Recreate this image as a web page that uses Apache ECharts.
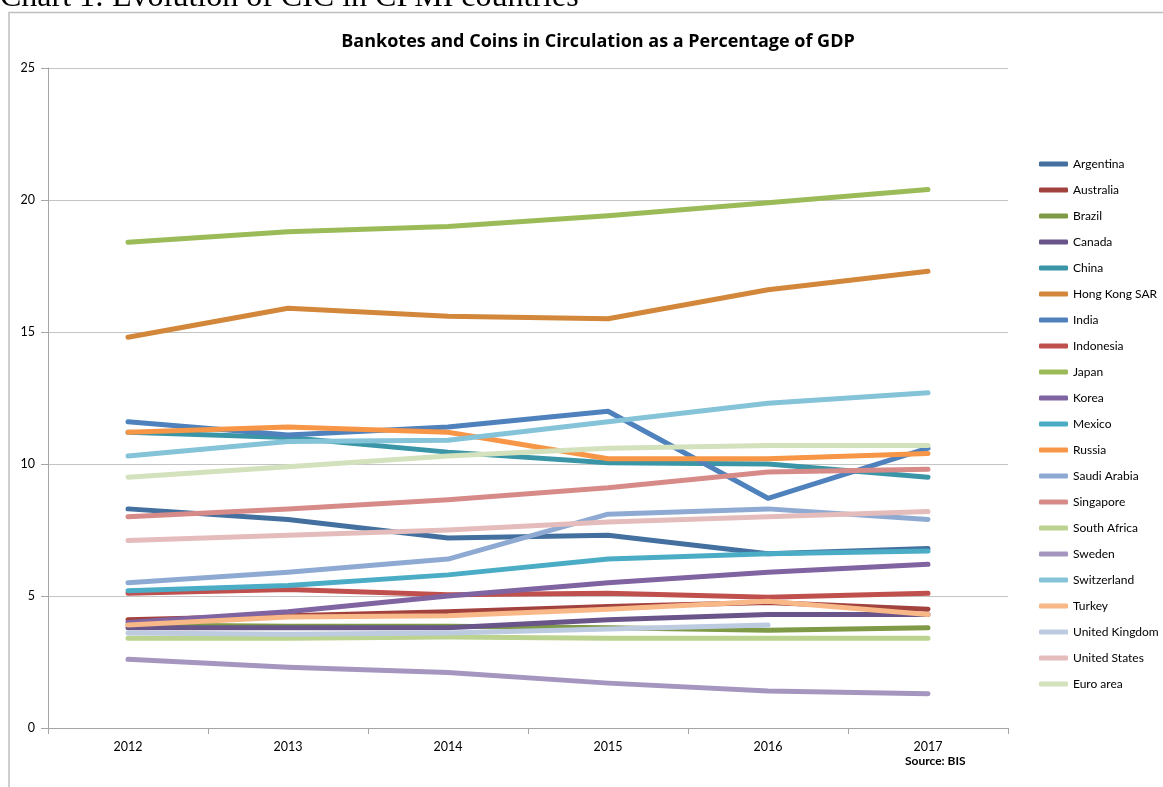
<!DOCTYPE html>
<html><head><meta charset="utf-8">
<script src="https://cdn.jsdelivr.net/npm/echarts@6/dist/echarts.min.js"></script>
<style>html,body{margin:0;padding:0;background:#fff;}#c{width:1163px;height:787px;}</style>
</head><body><div id="c"></div>
<script>
const years = ['2012','2013','2014','2015','2016','2017'];
const yTicks = [0,5,10,15,20,25];
const argentina   = [8.3, 7.9, 7.2, 7.3, 6.6, 6.8];
const australia   = [4.1, 4.25, 4.4, 4.6, 4.75, 4.5];
const brazil      = [3.9, 3.85, 3.85, 3.8, 3.7, 3.8];
const canada      = [3.8, 3.8, 3.8, 4.1, 4.3, 4.3];
const china       = [11.2, 11.0, 10.45, 10.05, 10.0, 9.5];
const hongKong    = [14.8, 15.9, 15.6, 15.5, 16.6, 17.3];
const india       = [11.6, 11.1, 11.4, 12.0, 8.7, 10.6];
const indonesia   = [5.1, 5.25, 5.05, 5.1, 4.95, 5.1];
const japan       = [18.4, 18.8, 19.0, 19.4, 19.9, 20.4];
const korea       = [4.0, 4.4, 5.0, 5.5, 5.9, 6.2];
const mexico      = [5.2, 5.4, 5.8, 6.4, 6.6, 6.7];
const russia      = [11.2, 11.4, 11.2, 10.2, 10.2, 10.4];
const saudiArabia = [5.5, 5.9, 6.4, 8.1, 8.3, 7.9];
const singapore   = [8.0, 8.3, 8.65, 9.1, 9.7, 9.8];
const southAfrica = [3.4, 3.4, 3.45, 3.4, 3.4, 3.4];
const sweden      = [2.6, 2.3, 2.1, 1.7, 1.4, 1.3];
const switzerland = [10.3, 10.85, 10.9, 11.6, 12.3, 12.7];
const turkey      = [3.9, 4.2, 4.25, 4.5, 4.8, 4.3];
const unitedKingdom = [3.6, 3.55, 3.6, 3.75, 3.9, null];
const unitedStates  = [7.1, 7.3, 7.5, 7.8, 8.0, 8.2];
const euroArea      = [9.5, 9.9, 10.3, 10.6, 10.7, 10.7];

const seriesDefs = [
  ['Argentina', argentina, '#43709f'],
  ['Australia', australia, '#a2423f'],
  ['Brazil', brazil, '#7e9a46'],
  ['Canada', canada, '#6a558a'],
  ['China', china, '#3a96a6'],
  ['Hong Kong SAR', hongKong, '#d2873b'],
  ['India', india, '#4f81bd'],
  ['Indonesia', indonesia, '#c0504d'],
  ['Japan', japan, '#9bbb59'],
  ['Korea', korea, '#8064a2'],
  ['Mexico', mexico, '#4bacc6'],
  ['Russia', russia, '#f79646'],
  ['Saudi Arabia', saudiArabia, '#8eaad2'],
  ['Singapore', singapore, '#d78b89'],
  ['South Africa', southAfrica, '#bcd38f'],
  ['Sweden', sweden, '#a596c0'],
  ['Switzerland', switzerland, '#84c3d8'],
  ['Turkey', turkey, '#f9b887'],
  ['United Kingdom', unitedKingdom, '#bccbe0'],
  ['United States', unitedStates, '#e4bcbb'],
  ['Euro area', euroArea, '#d3e1bd']
];

const chart = echarts.init(document.getElementById('c'), null, {renderer:'canvas'});
const FONT = 'Lato';
chart.setOption({
  animation:false,
  backgroundColor:'#fff',
  title:{
    text:'Bankotes and Coins in Circulation as a Percentage of GDP',
    left:593, top:28, textAlign:'center',
    textStyle:{fontFamily:'Open Sans', fontWeight:'bold', fontSize:18, color:'#000'}
  },
  graphic:[
    {type:'rect', shape:{x:9, y:12.5, width:1200, height:800}, style:{fill:'none', stroke:'#bfbfbf', lineWidth:1.5}, z:-1},
    {type:'text', x:0, y:-18, style:{text:'Chart 1: Evolution of CIC in CPMI countries', font:'32px "Liberation Serif"', fill:'#000'}},
    {type:'text', left:905, top:755, style:{text:'Source: BIS', font:'bold 12px Lato', fill:'#000'}}
  ],
  legend:{
    orient:'vertical', left:1034, top:152,
    itemWidth:29, itemHeight:5, itemGap:12,
    icon:'roundRect',
    textStyle:{fontFamily:FONT, fontSize:12, color:'#000', lineHeight:14},
    data:seriesDefs.map(d=>d[0])
  },
  grid:{left:48, top:68, right:155, bottom:59, containLabel:false},
  xAxis:{
    type:'category', data:years, boundaryGap:true,
    axisLine:{lineStyle:{color:'#a6a6a6', width:1}},
    axisTick:{show:true, length:6, lineStyle:{color:'#a6a6a6'}},
    axisLabel:{fontFamily:FONT, fontSize:12.5, color:'#000', margin:12}
  },
  yAxis:{
    type:'value', min:yTicks[0], max:yTicks[yTicks.length-1], interval:5,
    axisLine:{show:true, lineStyle:{color:'#a6a6a6', width:1}},
    axisTick:{show:true, length:7, lineStyle:{color:'#a6a6a6'}},
    axisLabel:{fontFamily:FONT, fontSize:12.5, color:'#000', margin:13},
    splitLine:{lineStyle:{color:'#c4c4c4', width:1}}
  },
  series:seriesDefs.map(d=>({
    name:d[0], type:'line', data:d[1], showSymbol:false, symbol:'none',
    color:d[2],
    lineStyle:{width:5, color:d[2], cap:'round', join:'round'},
    connectNulls:false
  }))
});
</script></body></html>
